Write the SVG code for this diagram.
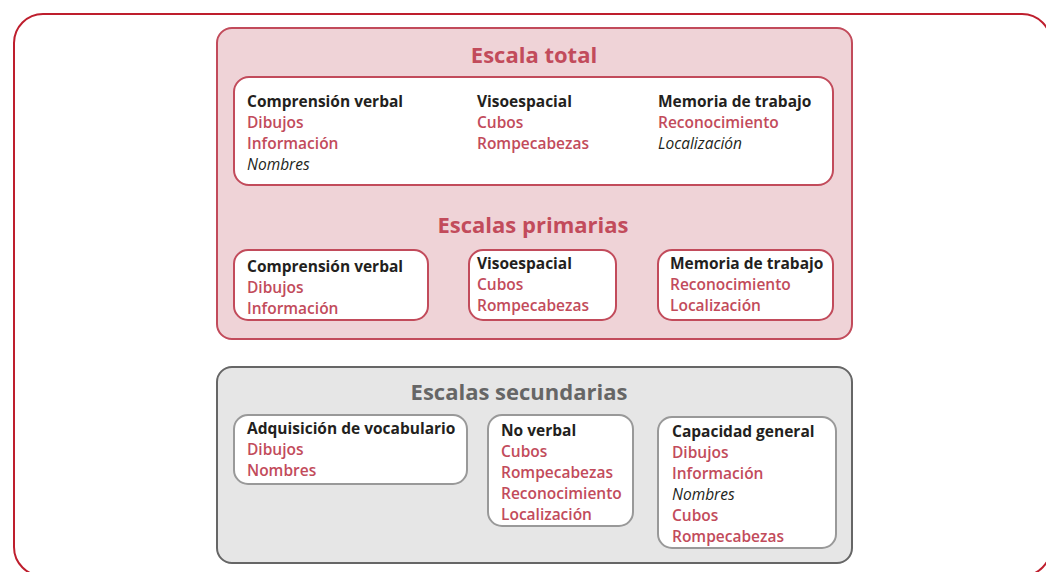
<svg xmlns="http://www.w3.org/2000/svg" width="1046" height="572" viewBox="0 0 1046 572">
<style>
text{font-family:"Open Sans","Liberation Sans",sans-serif;font-size:15.5px;font-weight:600}
.h{fill:#231f20;font-weight:bold}
.r{fill:#c24b5b}
.i{fill:#231f20;font-weight:normal;font-style:italic}
.t1{fill:#c24b5b;font-size:22px;font-weight:bold;text-anchor:middle}
.t2{fill:#666;font-size:22px;font-weight:bold;text-anchor:middle}
.pbox{fill:#fff;stroke:#c24b5b;stroke-width:2}
.gbox{fill:#fff;stroke:#999;stroke-width:2}
</style>
<rect x="14" y="14" width="1037" height="562" rx="29" fill="#fff" stroke="#be1e2d" stroke-width="2"/>
<g id="primary">
<rect x="217" y="28" width="635" height="311" rx="15" fill="#efd3d7" stroke="#c24b5b" stroke-width="2"/>
<text class="t1" x="534" y="63">Escala total</text>
<text class="t1" x="533" y="233">Escalas primarias</text>
</g>
<g id="total">
<rect class="pbox" x="234" y="77" width="599" height="108" rx="15"/>
<text class="h" x="247" y="107">Comprensión verbal</text>
<text class="r" x="247" y="128">Dibujos</text>
<text class="r" x="247" y="149">Información</text>
<text class="i" x="247" y="170">Nombres</text>
<text class="h" x="477" y="107">Visoespacial</text>
<text class="r" x="477" y="128">Cubos</text>
<text class="r" x="477" y="149">Rompecabezas</text>
<text class="h" x="658" y="107">Memoria de trabajo</text>
<text class="r" x="658" y="128">Reconocimiento</text>
<text class="i" x="658" y="149">Localización</text>
</g>
<g id="p-verbal">
<rect class="pbox" x="234" y="250" width="194" height="70" rx="14"/>
<text class="h" x="247" y="272">Comprensión verbal</text>
<text class="r" x="247" y="293">Dibujos</text>
<text class="r" x="247" y="314">Información</text>
</g>
<g id="p-viso">
<rect class="pbox" x="469" y="250" width="147" height="70" rx="14"/>
<text class="h" x="477" y="269">Visoespacial</text>
<text class="r" x="477" y="290">Cubos</text>
<text class="r" x="477" y="311">Rompecabezas</text>
</g>
<g id="p-memoria">
<rect class="pbox" x="658" y="250" width="175" height="70" rx="14"/>
<text class="h" x="670" y="269">Memoria de trabajo</text>
<text class="r" x="670" y="290">Reconocimiento</text>
<text class="r" x="670" y="311">Localización</text>
</g>
<g id="secondary">
<rect x="217" y="367" width="635" height="196" rx="15" fill="#e6e6e6" stroke="#666" stroke-width="2"/>
<text class="t2" x="519" y="400">Escalas secundarias</text>
</g>
<g id="s-vocab">
<rect class="gbox" x="234" y="415" width="233" height="69" rx="14"/>
<text class="h" x="247" y="434">Adquisición de vocabulario</text>
<text class="r" x="247" y="455">Dibujos</text>
<text class="r" x="247" y="476">Nombres</text>
</g>
<g id="s-noverbal">
<rect class="gbox" x="488" y="415" width="145" height="111" rx="14"/>
<text class="h" x="501" y="436">No verbal</text>
<text class="r" x="501" y="457">Cubos</text>
<text class="r" x="501" y="478">Rompecabezas</text>
<text class="r" x="501" y="499">Reconocimiento</text>
<text class="r" x="501" y="520">Localización</text>
</g>
<g id="s-general">
<rect class="gbox" x="658" y="417" width="178" height="131" rx="14"/>
<text class="h" x="672" y="437">Capacidad general</text>
<text class="r" x="672" y="458">Dibujos</text>
<text class="r" x="672" y="479">Información</text>
<text class="i" x="672" y="500">Nombres</text>
<text class="r" x="672" y="521">Cubos</text>
<text class="r" x="672" y="542">Rompecabezas</text>
</g>
<g id="connectors"></g>
</svg>
